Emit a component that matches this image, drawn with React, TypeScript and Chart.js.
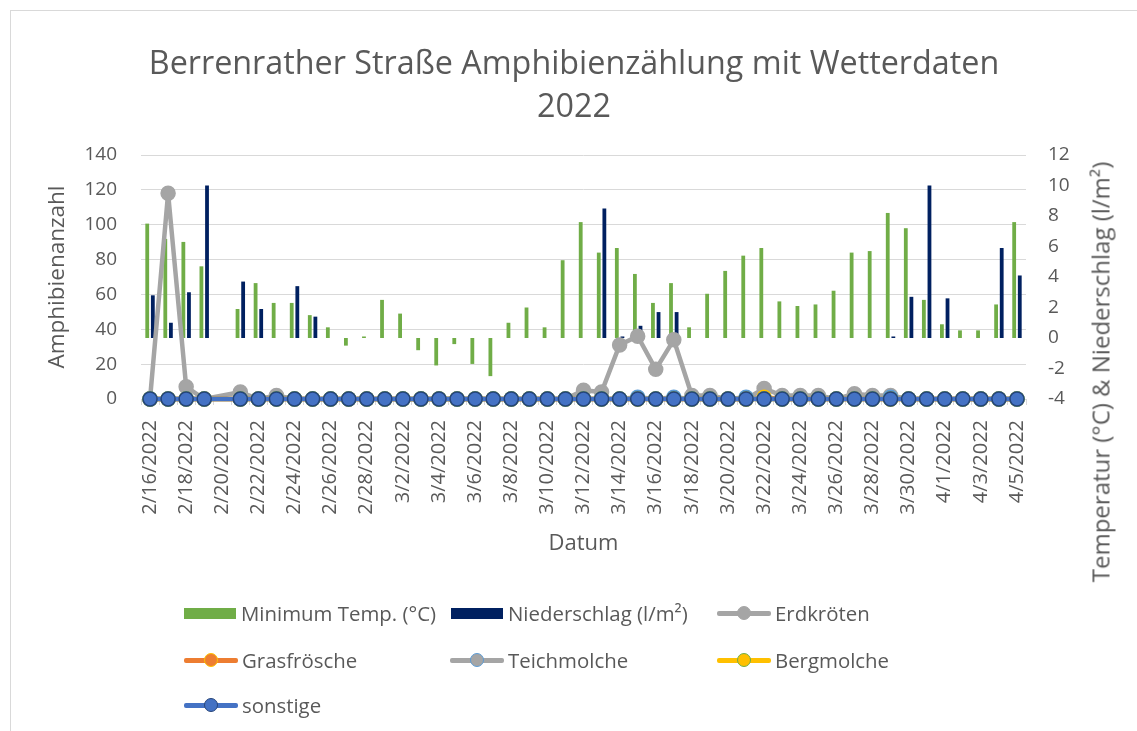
import React, { useEffect, useRef } from "react";
import { Chart, registerables } from "chart.js";

Chart.register(...registerables);

// ---------- DATA ----------
const categories = [
  "2/16/2022", "2/17/2022", "2/18/2022", "2/19/2022", "2/20/2022", "2/21/2022", "2/22/2022",
  "2/23/2022", "2/24/2022", "2/25/2022", "2/26/2022", "2/27/2022", "2/28/2022",
  "3/1/2022", "3/2/2022", "3/3/2022", "3/4/2022", "3/5/2022", "3/6/2022", "3/7/2022",
  "3/8/2022", "3/9/2022", "3/10/2022", "3/11/2022", "3/12/2022", "3/13/2022", "3/14/2022",
  "3/15/2022", "3/16/2022", "3/17/2022", "3/18/2022", "3/19/2022", "3/20/2022", "3/21/2022",
  "3/22/2022", "3/23/2022", "3/24/2022", "3/25/2022", "3/26/2022", "3/27/2022", "3/28/2022",
  "3/29/2022", "3/30/2022", "3/31/2022",
  "4/1/2022", "4/2/2022", "4/3/2022", "4/4/2022", "4/5/2022",
];

const minTemp = [
  7.5, 6.5, 6.3, 4.7, null, 1.9, 3.6, 2.3, 2.3, 1.5, 0.7, -0.5, 0.1,
  2.5, 1.6, -0.8, -1.8, -0.4, -1.7, -2.5, 1.0, 2.0, 0.7, 5.1, 7.6, 5.6, 5.9,
  4.2, 2.3, 3.6, 0.7, 2.9, 4.4, 5.4, 5.9, 2.4, 2.1, 2.2, 3.1, 5.6, 5.7,
  8.2, 7.2, 2.5,
  0.9, 0.5, 0.5, 2.2, 7.6,
];

const precipitation = [
  2.8, 1.0, 3.0, 10.0, null, 3.7, 1.9, 0, 3.4, 1.4, 0, 0, 0,
  0, 0, 0, 0, 0, 0, 0, 0, 0, 0, 0, 0, 8.5, 0.1,
  0.8, 1.7, 1.7, 0, 0, 0, 0, 0, 0, 0, 0, 0, 0, 0,
  0.1, 2.7, 10.0,
  2.6, 0, 0, 5.9, 4.1,
];

const erdkroeten = [
  0, 118, 7, 0, null, 4, 0, 2, 0, 0, 0, 0, 0,
  0, 0, 0, 0, 0, 0, 0, 0, 0, 0, 0, 5, 4, 31,
  36, 17, 34, 2, 2, 0, 0, 6, 2, 2, 2, 0, 3, 2,
  2, 0, 0,
  0, 0, 0, 0, 0,
];

const grasfroesche = [
  0, 0, 0, 0, null, 0, 0, 0, 0, 0, 0, 0, 0,
  0, 0, 0, 0, 0, 0, 0, 0, 0, 0, 0, 0, 0, 0,
  0, 0, 0, 0, 0, 0, 0, 1, 0, 0, 0, 0, 0, 0,
  0, 0, 0,
  0, 0, 0, 0, 0,
];

const teichmolche = [
  0, 0, 0, 0, null, 0, 0, 0, 0, 0, 0, 0, 0,
  0, 0, 0, 0, 0, 0, 0, 0, 0, 0, 0, 0, 0, 0,
  1, 0, 1, 0, 0, 0, 1, 0, 0, 0, 0, 0, 0, 0,
  1, 0, 0,
  0, 0, 0, 0, 0,
];

const bergmolche = [
  0, 0, 0, 0, null, 0, 0, 0, 0, 0, 0, 0, 0,
  0, 0, 0, 0, 0, 0, 0, 0, 0, 0, 0, 0, 0, 0,
  0, 0, 0, 0, 0, 0, 0, 0, 0, 0, 0, 0, 0, 0,
  0, 0, 0,
  0, 0, 0, 0, 0,
];

const sonstige = [
  0, 0, 0, 0, null, 0, 0, 0, 0, 0, 0, 0, 0,
  0, 0, 0, 0, 0, 0, 0, 0, 0, 0, 0, 0, 0, 0,
  0, 0, 0, 0, 0, 0, 0, 0, 0, 0, 0, 0, 0, 0,
  0, 0, 0,
  0, 0, 0, 0, 0,
];

const leftAxisRange = [0, 140, 20];
const rightAxisRange = [-4, 12, 2];

const titleLines = ["Berrenrather Straße Amphibienzählung mit Wetterdaten", "2022"];
const xTitle = "Datum";
const yLeftTitle = "Amphibienanzahl";
const yRightTitle = "Temperatur (°C) & Niederschlag (l/m²)";

// ---------- STYLE ----------
const FONT = "'Open Sans', 'DejaVu Sans', sans-serif";
const TEXT = "#595959";
const GRID = "#d9d9d9";

type SeriesStyle = { line: string; fill: string; border: string };
const lineSeries: { label: string; data: (number | null)[]; style: SeriesStyle; order: number }[] = [
  { label: "Erdkröten", data: erdkroeten, style: { line: "#A5A5A5", fill: "#A5A5A5", border: "#A5A5A5" }, order: 5 },
  { label: "Grasfrösche", data: grasfroesche, style: { line: "#ED7D31", fill: "#ED7D31", border: "#FFC000" }, order: 4 },
  { label: "Teichmolche", data: teichmolche, style: { line: "#A5A5A5", fill: "#A5A5A5", border: "#5B9BD5" }, order: 3 },
  { label: "Bergmolche", data: bergmolche, style: { line: "#FFC000", fill: "#FFC000", border: "#70AD47" }, order: 2 },
  { label: "sonstige", data: sonstige, style: { line: "#4472C4", fill: "#4472C4", border: "#264478" }, order: 1 },
];

const barSeries = [
  { label: "Minimum Temp. (°C)", data: minTemp, color: "#70AD47", order: 10 },
  { label: "Niederschlag (l/m²)", data: precipitation, color: "#002060", order: 11 },
];

function LegendSymbol({ kind, color, style }: { kind: string; color?: string; style?: SeriesStyle }) {
  if (kind === "box") {
    return (
      <div style={{ width: 52, height: 11, background: color, marginRight: 5, flex: "none" }} />
    );
  }
  return (
    <div style={{ position: "relative", width: 54, height: 16, marginRight: 4, flex: "none" }}>
      <div style={{ position: "absolute", left: 0, right: 0, top: 5.5, height: 5, background: style!.line, borderRadius: 2 }} />
      <div
        style={{
          position: "absolute", left: 19.5, top: 0.5, width: 12, height: 12, borderRadius: "50%",
          background: style!.fill, border: `1.5px solid ${style!.border}`,
        }}
      />
    </div>
  );
}

export default function App() {
  const canvasRef = useRef<HTMLCanvasElement | null>(null);

  useEffect(() => {
    const canvas = canvasRef.current;
    if (!canvas) return;
    const datasets: any[] = [];
    barSeries.forEach((b) => {
      datasets.push({
        type: "bar",
        label: b.label,
        data: b.data,
        yAxisID: "y2",
        backgroundColor: b.color,
        borderWidth: 0,
        order: b.order,
        categoryPercentage: 0.62,
        barPercentage: 0.68,
      });
    });
    lineSeries.forEach((s) => {
      datasets.push({
        type: "line",
        label: s.label,
        data: s.data,
        yAxisID: "y",
        borderColor: s.style.line,
        backgroundColor: s.style.fill,
        pointBackgroundColor: s.style.fill,
        pointBorderColor: s.style.border,
        borderWidth: 4.5,
        pointRadius: 7,
        pointBorderWidth: 1.5,
        spanGaps: true,
        tension: 0,
        order: s.order,
        clip: false,
      });
    });

    const chart = new Chart(canvas, {
      type: "bar",
      data: { labels: categories, datasets },
      options: {
        animation: false,
        responsive: false,
        maintainAspectRatio: false,
        layout: { padding: { top: 155, bottom: 174, left: 0, right: 0 } },
        plugins: {
          legend: { display: false },
          title: { display: false },
          tooltip: { enabled: false },
        },
        scales: {
          x: {
            offset: true,
            grid: {
              display: true,
              drawOnChartArea: false,
              drawTicks: true,
              tickLength: 6,
              color: GRID,
              offset: true,
            },
            border: { display: true, color: GRID, width: 1 },
            ticks: {
              autoSkip: false,
              maxRotation: 90,
              minRotation: 90,
              padding: 15,
              color: TEXT,
              font: { family: FONT, size: 20 },
              callback: (_v: any, i: number) => (i % 2 === 0 ? categories[i] : ""),
            },
            title: {
              display: true,
              text: xTitle,
              color: TEXT,
              font: { family: FONT, size: 22 },
              padding: 0,
            },
            afterFit: (s: any) => {
              s.height = 158;
            },
          },
          y: {
            position: "left",
            min: leftAxisRange[0],
            max: leftAxisRange[1],
            ticks: {
              stepSize: leftAxisRange[2],
              padding: 24,
              color: TEXT,
              font: { family: FONT, size: 19 },
            },
            grid: { color: GRID, drawTicks: false, lineWidth: 1 },
            border: { display: false },
            title: {
              display: true,
              text: yLeftTitle,
              color: TEXT,
              font: { family: FONT, size: 22.5 },
              padding: { top: 44, bottom: 0 },
            },
            afterFit: (s: any) => {
              s.width = 141;
            },
          },
          y2: {
            position: "right",
            min: rightAxisRange[0],
            max: rightAxisRange[1],
            ticks: {
              stepSize: rightAxisRange[2],
              padding: 22,
              color: TEXT,
              font: { family: FONT, size: 19 },
            },
            grid: { display: false, drawTicks: false },
            border: { display: false },
            afterFit: (s: any) => {
              s.width = 111;
            },
          },
        },
      } as any,
    });
    return () => chart.destroy();
  }, []);

  const textStyle: React.CSSProperties = {
    fontFamily: FONT,
    fontSize: 20.4,
    color: TEXT,
    whiteSpace: "nowrap",
    lineHeight: "24px",
  };

  const legendRows: { x: number; y: number; label: string; kind: string; color?: string; style?: SeriesStyle }[] = [
    { x: 184, y: 613, label: barSeries[0].label, kind: "box", color: barSeries[0].color },
    { x: 451, y: 613, label: barSeries[1].label, kind: "box", color: barSeries[1].color },
    { x: 717, y: 613, label: lineSeries[0].label, kind: "line", style: lineSeries[0].style },
    { x: 184, y: 660, label: lineSeries[1].label, kind: "line", style: lineSeries[1].style },
    { x: 450, y: 660, label: lineSeries[2].label, kind: "line", style: lineSeries[2].style },
    { x: 717, y: 660, label: lineSeries[3].label, kind: "line", style: lineSeries[3].style },
    { x: 184, y: 705, label: lineSeries[4].label, kind: "line", style: lineSeries[4].style },
  ];

  return (
    <div style={{ position: "absolute", left: 0, top: 0, width: 1137, height: 731, background: "#fff", overflow: "hidden" }}>
      <div
        style={{
          position: "absolute", left: 10, top: 10, width: 1200, height: 800,
          borderLeft: `1px solid ${GRID}`, borderTop: `1px solid ${GRID}`,
        }}
      />
      <canvas ref={canvasRef} width={1137} height={731} style={{ position: "absolute", left: 0, top: 0, display: "block" }} />
      <div
        style={{
          position: "absolute", left: 0, width: 1148, top: 40, textAlign: "center",
          fontFamily: FONT, fontSize: 32.3, lineHeight: "43px", color: TEXT,
        }}
      >
        {titleLines.map((t, i) => (
          <div key={i}>{t}</div>
        ))}
      </div>
      <div
        style={{
          position: "absolute", left: 1100, top: 372, transform: "translate(-50%, -50%) rotate(-90deg)",
          fontFamily: FONT, fontSize: 24, color: TEXT, whiteSpace: "nowrap",
        }}
      >
        {yRightTitle}
      </div>
      {legendRows.map((r, i) => (
        <div
          key={i}
          style={{ position: "absolute", left: r.x, top: r.y - 12, height: 24, display: "flex", alignItems: "center" }}
        >
          <LegendSymbol kind={r.kind} color={r.color} style={r.style} />
          <span style={textStyle}>{r.label}</span>
        </div>
      ))}
    </div>
  );
}
